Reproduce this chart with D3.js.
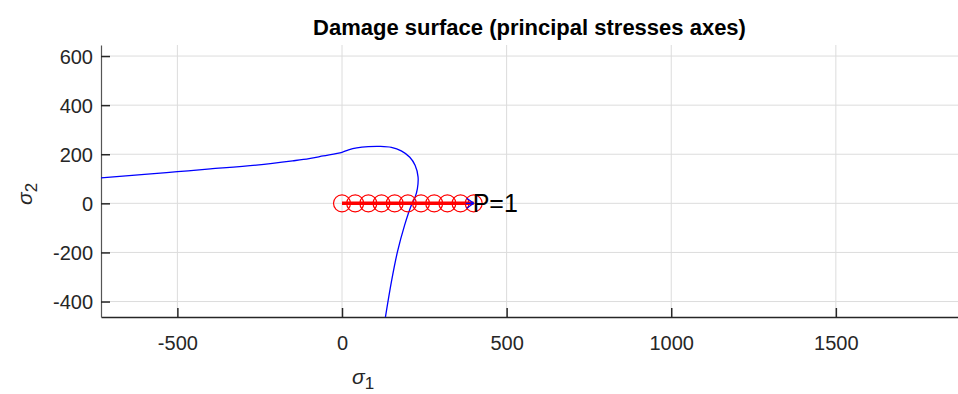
<!DOCTYPE html>
<html lang="en">
<head>
  <meta charset="UTF-8">
  <title>Damage surface</title>
  <style>
    body { margin: 0; background: #fff; }
    svg { display: block; font-family: "Liberation Sans", Arial, Helvetica, sans-serif; }
    .grid line { stroke: #dcdcdc; stroke-width: 1; }
    .tick-label { fill: #262626; font-size: 20px; font-family: "Liberation Sans", Arial, sans-serif; }
  </style>
</head>
<body>
<svg id="chart" width="958" height="394"></svg>
<script src="https://d3js.org/d3.v7.min.js"></script>
<script>
  // damage surface curve (sigma1, sigma2)
  const surfS1 = [-732, -600, -500, -400, -260, -150, -100, -57, 0, 20, 45, 80, 115, 150, 180, 206, 222, 231, 229, 222, 210, 190, 168, 150, 131];
  const surfS2 = [104, 118, 129, 140, 156, 173, 182, 193, 208, 218, 226, 231, 232, 228, 214, 188, 155, 108, 60, 25, -10, -90, -200, -320, -471];

  // load path steps
  const pathS1 = [0, 40, 80, 120, 160, 200, 240, 280, 320, 360, 400];
  const pathS2 = [0, 0, 0, 0, 0, 0, 0, 0, 0, 0, 0];

  const xTicks = [-500, 0, 500, 1000, 1500];
  const yTicks = [-400, -200, 0, 200, 400, 600];
  const pointLabel = 'P=1';

  const margin = { top: 45, right: 0, bottom: 77, left: 101 };
  const width = 958 - margin.left - margin.right;
  const height = 394 - margin.top - margin.bottom;

  const x = d3.scaleLinear().domain([-732, 1871]).range([0, width]);
  const y = d3.scaleLinear().domain([-463, 645]).range([height, 0]);

  const svg = d3.select('#chart');

  svg.append('text')
    .attr('x', margin.left + width / 2)
    .attr('y', 35)
    .attr('text-anchor', 'middle')
    .style('font-size', '22px')
    .style('font-weight', 'bold')
    .attr('fill', '#000')
    .text('Damage surface (principal stresses axes)');

  const g = svg.append('g')
    .attr('transform', `translate(${margin.left}, ${margin.top})`);

  // grid
  g.append('g').attr('class', 'grid')
    .selectAll('line').data(xTicks).enter().append('line')
    .attr('x1', d => x(d)).attr('x2', d => x(d))
    .attr('y1', 0).attr('y2', height);
  g.append('g').attr('class', 'grid')
    .selectAll('line').data(yTicks).enter().append('line')
    .attr('x1', 0).attr('x2', width)
    .attr('y1', d => y(d)).attr('y2', d => y(d));

  // axes (ticks pointing inward)
  const fmt = d => String(d);
  const xAxis = g.append('g')
    .attr('transform', `translate(0, ${height})`)
    .call(d3.axisBottom(x).tickValues(xTicks).tickFormat(fmt).tickSizeInner(-9).tickSizeOuter(0).tickPadding(0));
  xAxis.select('.domain').attr('stroke', '#262626').attr('stroke-width', 1.5);
  xAxis.selectAll('.tick line').attr('stroke', '#262626').attr('stroke-width', 1.5);
  xAxis.selectAll('.tick text').attr('class', 'tick-label').attr('y', 33).attr('dy', 0);

  const yAxis = g.append('g')
    .call(d3.axisLeft(y).tickValues(yTicks).tickFormat(fmt).tickSizeInner(-9).tickSizeOuter(0).tickPadding(0));
  yAxis.select('.domain').attr('stroke', '#555').attr('stroke-width', 1.2);
  yAxis.selectAll('.tick line').attr('stroke', '#262626').attr('stroke-width', 1.5);
  yAxis.selectAll('.tick text').attr('class', 'tick-label').attr('x', -8).attr('dy', '0.36em');

  // clip to plot area
  svg.append('defs').append('clipPath').attr('id', 'clip')
    .append('rect').attr('width', width).attr('height', height);
  const plot = g.append('g').attr('clip-path', 'url(#clip)');

  const surf = surfS1.map((s, i) => [s, surfS2[i]]);
  plot.append('path')
    .datum(surf)
    .attr('fill', 'none')
    .attr('stroke', '#0000ff')
    .attr('stroke-width', 1.3)
    .attr('d', d3.line().x(d => x(d[0])).y(d => y(d[1])).curve(d3.curveCatmullRom.alpha(0.5)));

  const path = pathS1.map((s, i) => [s, pathS2[i]]);
  plot.append('path')
    .datum(path)
    .attr('fill', 'none')
    .attr('stroke', '#ff0000')
    .attr('stroke-width', 3.5)
    .attr('d', d3.line().x(d => x(d[0])).y(d => y(d[1])));

  plot.selectAll('.step').data(path).enter().append('circle')
    .attr('class', 'step')
    .attr('cx', d => x(d[0]))
    .attr('cy', d => y(d[1]))
    .attr('r', 8.5)
    .attr('fill', 'none')
    .attr('stroke', '#ff0000')
    .attr('stroke-width', 1.2);

  // arrow head at last step
  const last = path[path.length - 1];
  const ax = x(last[0]), ay = y(last[1]);
  plot.append('path')
    .attr('d', `M${ax - 7},${ay - 5} L${ax},${ay} L${ax - 7},${ay + 5} M${ax - 8},${ay} L${ax},${ay}`)
    .attr('fill', 'none')
    .attr('stroke', '#0000ff')
    .attr('stroke-width', 1.3);

  g.append('text')
    .attr('x', ax - 1)
    .attr('y', ay)
    .attr('dy', '0.36em')
    .attr('fill', '#000')
    .style('font-size', '25px')
    .text(pointLabel);

  // axis labels
  const xl = svg.append('text')
    .attr('x', 352).attr('y', 384)
    .attr('fill', '#262626')
    .style('font-size', '21px');
  xl.append('tspan').style('font-style', 'italic').text('σ');
  xl.append('tspan').attr('dy', 5).style('font-size', '17px').text('1');

  const yl = svg.append('text')
    .attr('transform', 'translate(32, 205) rotate(-90)')
    .attr('fill', '#262626')
    .style('font-size', '21px');
  yl.append('tspan').style('font-style', 'italic').text('σ');
  yl.append('tspan').attr('dy', 5).style('font-size', '17px').text('2');
</script>
</body>
</html>
